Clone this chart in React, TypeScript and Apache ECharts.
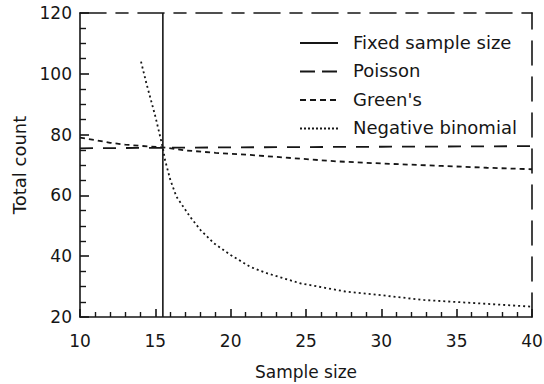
import React, { useEffect, useRef } from 'react';
import * as echarts from 'echarts';

const seriesNames = ['Fixed sample size', 'Poisson', "Green's", 'Negative binomial'];
const xTickLabels = [10, 15, 20, 25, 30, 35, 40];
const yTickLabels = [20, 40, 60, 80, 100, 120];

const fixedX = [15.5, 15.5];
const fixedY = [20, 120];
const poissonX = [10, 20, 30, 40];
const poissonY = [75.5, 75.8, 76.0, 76.2];
const greensX = [10, 11, 12, 13, 14, 15.5, 17, 19, 21.3, 24, 27, 30, 34, 37, 40];
const greensY = [79.0, 78.2, 77.3, 76.7, 76.3, 75.8, 74.8, 74.0, 73.3, 72.3, 71.2, 70.5, 69.7, 69.1, 68.6];
const negBinX = [14.05, 14.4, 15.0, 15.5, 15.65, 16.0, 16.4, 17.3, 18.0, 18.9, 20.0, 21.3, 22.4, 24.6, 27.7, 29.4, 32.8, 36.1, 40];
const negBinY = [104, 97, 86, 75.6, 71.5, 65, 59.6, 53.0, 48.6, 44.2, 40.4, 36.5, 34.4, 31.1, 28.3, 27.5, 25.6, 24.6, 23.4];

const zip = (xs: number[], ys: number[]) => xs.map((x, i) => [x, ys[i]]);

const INK = '#161616';
const FONT = 'DejaVu Sans';
const dashes: (number[] | 'solid')[] = ['solid', [13, 10], [5, 4], [2, 3]];
const legendDashes: (number[] | null)[] = [null, [15, 7], [6, 4], [2, 2]];

export default function App() {
  const ref = useRef<HTMLDivElement>(null);
  useEffect(() => {
    if (!ref.current) return;
    const chart = echarts.init(ref.current, null, { renderer: 'svg' });
    const datasets = [zip(fixedX, fixedY), zip(poissonX, poissonY), zip(greensX, greensY), zip(negBinX, negBinY)];
    const legendRowsY = [43, 71.5, 100, 128.5];
    const legendGraphics: any[] = [];
    seriesNames.forEach((name, i) => {
      legendGraphics.push({
        type: 'line',
        shape: { x1: 300, y1: legendRowsY[i], x2: 338, y2: legendRowsY[i] },
        style: { stroke: INK, lineWidth: 1.8, lineDash: legendDashes[i] || undefined },
      });
      legendGraphics.push({
        type: 'text',
        x: 353,
        y: legendRowsY[i] - 1,
        style: { text: name, font: `18px "${FONT}"`, fill: INK, verticalAlign: 'middle', textAlign: 'left' },
      });
    });
    chart.setOption({
      animation: false,
      backgroundColor: '#ffffff',
      grid: { left: 80, right: 12, top: 13, bottom: 67, containLabel: false, outerBoundsMode: 'none' },
      xAxis: [
        {
          type: 'value',
          min: 10,
          max: 40,
          interval: 5,
          name: 'Sample size',
          nameLocation: 'middle',
          nameGap: 46,
          nameTextStyle: { fontFamily: FONT, fontSize: 17, color: INK },
          axisLine: { show: true, onZero: false, lineStyle: { color: INK, width: 1.6 } },
          axisTick: { show: true, inside: true, length: 8, lineStyle: { color: INK, width: 1.6 } },
          minorTick: { show: true, splitNumber: 5, length: 5, lineStyle: { color: INK, width: 1.4 } },
          axisLabel: {
            fontFamily: FONT, fontSize: 17, color: INK, margin: 15,
            formatter: (v: number) => (xTickLabels.includes(v) ? String(v) : ''),
          },
          splitLine: { show: false },
        },
        {
          type: 'value',
          min: 10,
          max: 40,
          position: 'top',
          axisLine: { show: true, onZero: false, lineStyle: { color: INK, width: 1.6, type: [26, 10, 12, 10] } },
          axisTick: { show: false },
          axisLabel: { show: false },
          splitLine: { show: false },
        },
      ],
      yAxis: [
        {
          type: 'value',
          min: 20,
          max: 120,
          interval: 20,
          name: 'Total count',
          nameLocation: 'middle',
          nameGap: 50,
          nameTextStyle: { fontFamily: FONT, fontSize: 18, color: INK },
          axisLine: { show: true, onZero: false, lineStyle: { color: INK, width: 1.6 } },
          axisTick: { show: true, inside: true, length: 9, lineStyle: { color: INK, width: 1.6 } },
          minorTick: { show: true, splitNumber: 4, length: 6, lineStyle: { color: INK, width: 1.4 } },
          axisLabel: {
            fontFamily: FONT, fontSize: 17, color: INK, margin: 8,
            formatter: (v: number) => (yTickLabels.includes(v) ? String(v) : ''),
          },
          splitLine: { show: false },
        },
        {
          type: 'value',
          min: 20,
          max: 120,
          position: 'right',
          axisLine: { show: true, onZero: false, lineStyle: { color: INK, width: 1.6, type: [24, 12] } },
          axisTick: { show: false },
          axisLabel: { show: false },
          splitLine: { show: false },
        },
      ],
      series: seriesNames.map((name, i) => ({
        name,
        type: 'line',
        data: datasets[i],
        xAxisIndex: 0,
        yAxisIndex: 0,
        showSymbol: false,
        symbol: 'none',
        smooth: false,
        lineStyle: { color: INK, width: i === 0 ? 1.6 : 1.8, type: dashes[i], cap: 'butt' },
        silent: true,
      })),
      graphic: legendGraphics,
    });
    return () => chart.dispose();
  }, []);
  return <div ref={ref} style={{ position: 'fixed', left: 0, top: 0, width: 544, height: 384 }} />;
}
